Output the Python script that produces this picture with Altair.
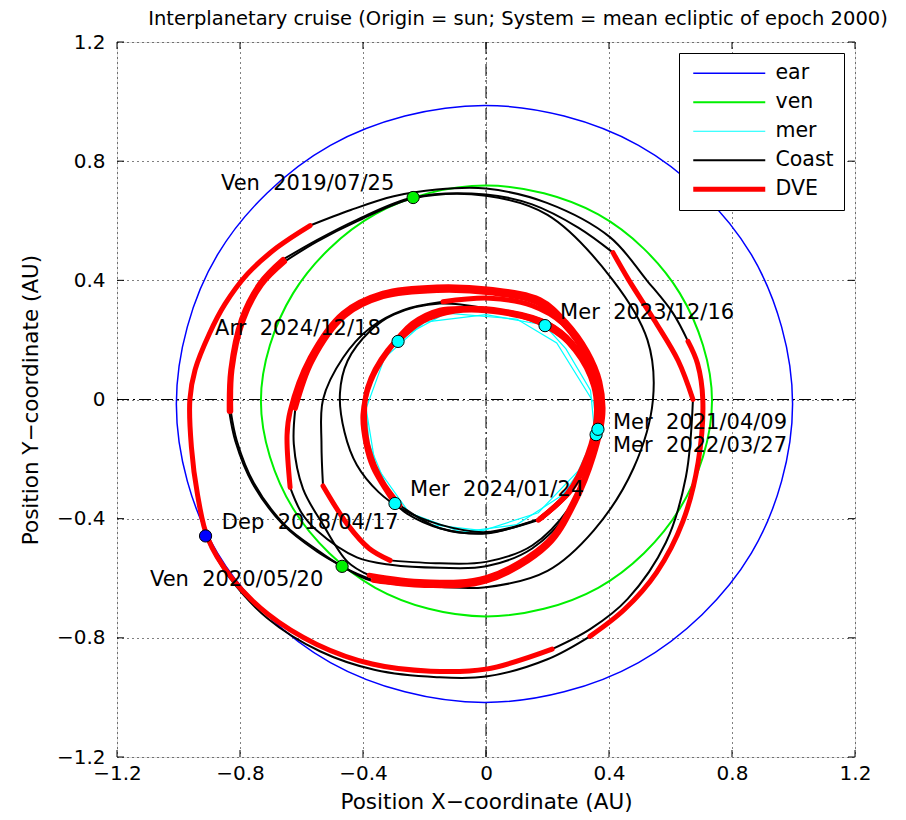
import altair as alt
import pandas as pd

W, H = 738, 715

TITLE = "Interplanetary cruise (Origin = sun; System = mean ecliptic of epoch 2000)"

x_ticks = [-1.2, -0.8, -0.4, 0.0, 0.4, 0.8, 1.2]
y_ticks = [-1.2, -0.8, -0.4, 0.0, 0.4, 0.8, 1.2]

series_names = ["ear", "ven", "mer", "Coast", "DVE"]
series_colors = ["#0000ff", "#00f000", "#00ffff", "#000000", "#ff0000"]
series_widths = [1.5, 2.0, 1.2, 2.0, 5.0]

# planet orbits (AU)
earth_x = [0.997, 0.863, 0.496, -0.005, -0.506, -0.873, -1.007, -0.873, -0.506, -0.005, 0.496, 0.863]
earth_y = [-0.015, 0.486, 0.853, 0.987, 0.853, 0.486, -0.015, -0.516, -0.883, -1.017, -0.883, -0.516]
venus_x = [0.735, 0.63, 0.365, 0.0, -0.36, -0.627, -0.732, -0.627, -0.36, 0.0, 0.365, 0.63]
venus_y = [-0.005, 0.357, 0.621, 0.718, 0.622, 0.357, -0.005, -0.367, -0.632, -0.728, -0.632, -0.367]
mer_a_x = [0.362, 0.35, 0.23, 0.10, -0.13, -0.29, -0.37, -0.393, -0.38, -0.30, -0.18, -0.01, 0.17, 0.30]
mer_a_y = [-0.10, -0.01, 0.19, 0.27, 0.29, 0.20, 0.08, 0.0, -0.15, -0.35, -0.42, -0.44, -0.38, -0.24]
mer_b_x = [0.355, 0.34, 0.26, 0.19, 0.0, -0.20, -0.33, -0.39, -0.36, -0.25, -0.08, 0.10, 0.25, 0.33]
mer_b_y = [-0.13, 0.03, 0.17, 0.25, 0.285, 0.26, 0.14, -0.03, -0.22, -0.38, -0.445, -0.42, -0.32, -0.20]

# trajectory arcs (kind, points)
traj_arcs = [
    ("Coast", [(-0.912, -0.46), (-0.84, -0.59), (-0.71, -0.735), (-0.54, -0.845), (-0.36, -0.908), (-0.16, -0.932), (0.0, -0.93), (0.2, -0.872), (0.338, -0.795)]),
    ("DVE", [(0.338, -0.795), (0.45, -0.705), (0.555, -0.58), (0.64, -0.41), (0.69, -0.21), (0.705, 0.0), (0.688, 0.12), (0.657, 0.195)]),
    ("Coast", [(0.657, 0.195), (0.608, 0.29), (0.523, 0.40), (0.403, 0.545), (0.198, 0.66), (0.0, 0.708), (-0.16, 0.705), (-0.30, 0.682), (-0.44, 0.636), (-0.572, 0.584)]),
    ("DVE", [(-0.572, 0.584), (-0.68, 0.51), (-0.777, 0.42), (-0.849, 0.32), (-0.90, 0.22), (-0.946, 0.10), (-0.963, 0.0), (-0.958, -0.16), (-0.938, -0.32), (-0.905, -0.465), (-0.83, -0.595), (-0.71, -0.72), (-0.55, -0.822), (-0.37, -0.888), (-0.18, -0.912), (0.0, -0.905), (0.215, -0.838)]),
    ("Coast", [(0.215, -0.838), (0.34, -0.77), (0.46, -0.67), (0.585, -0.48), (0.65, -0.26), (0.673, 0.0)]),
    ("DVE", [(0.673, 0.0), (0.625, 0.13), (0.548, 0.265), (0.465, 0.40), (0.413, 0.493)]),
    ("Coast", [(0.413, 0.493), (0.30, 0.577), (0.15, 0.655), (0.0, 0.688), (-0.237, 0.678), (-0.42, 0.603), (-0.55, 0.535), (-0.66, 0.47)]),
    ("DVE", [(-0.66, 0.47), (-0.735, 0.39), (-0.795, 0.27), (-0.83, 0.10), (-0.835, -0.04)]),
    ("Coast", [(-0.835, -0.04), (-0.815, -0.14), (-0.76, -0.28), (-0.66, -0.42), (-0.55, -0.51), (-0.468, -0.56), (-0.377, -0.607), (-0.205, -0.625), (0.0, -0.63), (0.2, -0.575), (0.35, -0.44), (0.48, -0.23), (0.543, 0.0), (0.525, 0.2), (0.413, 0.40), (0.2, 0.62), (0.0, 0.684), (-0.237, 0.675), (-0.42, 0.598), (-0.55, 0.53), (-0.655, 0.463)]),
    ("DVE", [(-0.655, 0.463), (-0.73, 0.385), (-0.79, 0.265), (-0.826, 0.10), (-0.83, -0.04)]),
    ("Coast", [(-0.83, -0.04), (-0.81, -0.14), (-0.755, -0.28), (-0.655, -0.42), (-0.545, -0.508), (-0.468, -0.56), (-0.42, -0.585), (-0.367, -0.607)]),
    ("DVE", [(-0.367, -0.607), (-0.2, -0.624), (0.0, -0.61), (0.2, -0.49), (0.29, -0.345), (0.35, -0.19), (0.38, -0.05), (0.37, 0.06), (0.33, 0.16), (0.26, 0.26), (0.176, 0.335), (0.013, 0.37), (-0.16, 0.378), (-0.335, 0.357), (-0.465, 0.29), (-0.572, 0.14), (-0.637, -0.04), (-0.647, -0.12), (-0.637, -0.295)]),
    ("Coast", [(-0.637, -0.295), (-0.60, -0.38), (-0.55, -0.44), (-0.42, -0.53), (-0.31, -0.555), (-0.15, -0.565), (0.0, -0.56), (0.15, -0.50), (0.28, -0.36), (0.345, -0.2), (0.364, -0.10)]),
    ("DVE", [(0.364, -0.10), (0.368, 0.0), (0.345, 0.10), (0.275, 0.225), (0.172, 0.322), (0.013, 0.358), (-0.16, 0.366), (-0.335, 0.345), (-0.46, 0.28), (-0.565, 0.13), (-0.62, -0.03)]),
    ("Coast", [(-0.62, -0.03), (-0.625, -0.15), (-0.595, -0.30), (-0.53, -0.42), (-0.45, -0.545), (-0.38, -0.59)]),
    ("DVE", [(-0.38, -0.59), (-0.2, -0.612), (0.0, -0.598), (0.2, -0.478), (0.285, -0.34), (0.345, -0.19), (0.372, -0.05), (0.36, 0.06), (0.32, 0.16), (0.25, 0.255), (0.15, 0.315), (0.013, 0.34), (-0.14, 0.328)]),
    ("Coast", [(-0.14, 0.328), (-0.27, 0.30), (-0.377, 0.24), (-0.465, 0.14), (-0.53, 0.0), (-0.535, -0.15), (-0.53, -0.29)]),
    ("DVE", [(-0.53, -0.29), (-0.45, -0.42), (-0.38, -0.50), (-0.312, -0.54)]),
    ("Coast", [(-0.312, -0.54), (-0.15, -0.55), (0.0, -0.545), (0.15, -0.49), (0.28, -0.35), (0.345, -0.2), (0.358, -0.118)]),
    ("DVE", [(0.358, -0.118), (0.365, -0.02), (0.34, 0.08), (0.28, 0.19), (0.2, 0.255), (0.088, 0.29)]),
    ("Coast", [(0.088, 0.29), (-0.15, 0.322), (-0.30, 0.285), (-0.377, 0.23), (-0.45, 0.13), (-0.475, 0.02), (-0.46, -0.11), (-0.42, -0.22), (-0.35, -0.31), (-0.27, -0.37), (-0.15, -0.42), (0.0, -0.445), (0.176, -0.40)]),
    ("DVE", [(0.176, -0.40), (0.28, -0.30), (0.34, -0.18), (0.365, -0.06), (0.355, 0.04), (0.30, 0.16), (0.192, 0.248), (0.08, 0.29), (-0.05, 0.305), (-0.15, 0.30), (-0.24, 0.255), (-0.32, 0.16), (-0.375, 0.06), (-0.40, -0.05), (-0.39, -0.15), (-0.367, -0.228), (-0.296, -0.349)]),
    ("Coast", [(-0.296, -0.349), (-0.257, -0.383), (-0.15, -0.432), (0.0, -0.45), (0.176, -0.40)]),
    ("DVE", [(0.176, -0.40), (0.27, -0.31), (0.335, -0.18), (0.362, -0.06), (0.352, 0.05), (0.295, 0.17), (0.2, 0.255), (0.05, 0.298), (-0.10, 0.302), (-0.22, 0.26), (-0.32, 0.165), (-0.385, 0.04), (-0.395, -0.06), (-0.38, -0.17), (-0.34, -0.27), (-0.28, -0.355)]),
    ("Coast", [(-0.28, -0.355), (-0.15, -0.432), (0.0, -0.448), (0.17, -0.405)]),
    ("DVE", [(0.17, -0.405), (0.265, -0.315), (0.33, -0.185), (0.358, -0.065), (0.35, 0.045), (0.29, 0.165), (0.195, 0.25), (0.05, 0.292), (-0.10, 0.297), (-0.21, 0.26), (-0.286, 0.195)]),
]

# event markers
marker_x = [-0.912, -0.237, -0.468, 0.358, 0.364, 0.192, -0.296, -0.286]
marker_y = [-0.458, 0.678, -0.560, -0.118, -0.100, 0.248, -0.349, 0.195]
marker_fill = ["#0000ff", "#00f000", "#00f000", "#00ffff", "#00ffff", "#00ffff", "#00ffff", "#00ffff"]

# event labels
sp = "\u00a0\u00a0"
label_text = ["Ven" + sp + "2019/07/25", "Mer" + sp + "2023/12/16", "Arr" + sp + "2024/12/18",
              "Mer" + sp + "2021/04/09", "Mer" + sp + "2022/03/27", "Mer" + sp + "2024/01/24",
              "Dep" + sp + "2018/04/17", "Ven" + sp + "2020/05/20"]
label_x = [-0.862, 0.241, -0.881, 0.413, 0.413, -0.247, -0.859, -1.093]
label_y = [0.723, 0.290, 0.238, -0.080, -0.155, -0.305, -0.414, -0.607]

# ---------------- build tables ----------------
def closed_rows(name, xs, ys, arc):
    return [dict(series=name, arc=arc, order=i, x=a, y=b) for i, (a, b) in enumerate(zip(xs, ys))]

planet_df = pd.DataFrame(closed_rows("ear", earth_x, earth_y, "e") + closed_rows("ven", venus_x, venus_y, "v"))
mer_df = pd.DataFrame(closed_rows("mer", mer_a_x, mer_a_y, "ma") + closed_rows("mer", mer_b_x, mer_b_y, "mb"))
rows = []
for k, (kind, pts) in enumerate(traj_arcs):
    for i, (a, b) in enumerate(pts):
        rows.append(dict(series=kind, arc=f"t{k:02d}", order=i, x=a, y=b))
traj_df = pd.DataFrame(rows)
coast_df = traj_df[traj_df.series == "Coast"]
dve_df = traj_df[traj_df.series == "DVE"]
marker_df = pd.DataFrame(dict(x=marker_x, y=marker_y, fill=marker_fill))
label_df = pd.DataFrame(dict(x=label_x, y=label_y, label=label_text))
tick_df = pd.DataFrame(dict(x=x_ticks, y=y_ticks))
zero_df = pd.DataFrame(dict(x=[0.0], y=[0.0]))
title_df = pd.DataFrame(dict(t=[TITLE]))

FONT = "DejaVu Sans"
LABEL_EXPR = "datum.value == 0 ? '0' : format(datum.value, '.1f')"
xs = alt.Scale(domain=[-1.2, 1.2], nice=False, zero=False)
ys = alt.Scale(domain=[-1.2, 1.2], nice=False, zero=False)
xaxis = alt.Axis(values=x_ticks, labelExpr=LABEL_EXPR, title="Position X\u2212coordinate (AU)", grid=True,
                 gridDash=[1, 4], gridColor="#000000", gridOpacity=1, ticks=False, domain=False,
                 labelFont=FONT, labelFontSize=20, labelColor="black", labelPadding=6, labelFlush=False,
                 labelOverlap=False, titleFont=FONT, titleFontSize=21.5, titleFontWeight="normal",
                 titleColor="black", titlePadding=8)
yaxis = alt.Axis(values=y_ticks, labelExpr=LABEL_EXPR, title="Position Y\u2212coordinate (AU)", grid=True,
                 gridDash=[1, 4], gridColor="#000000", gridOpacity=1, ticks=False, domain=False,
                 labelFont=FONT, labelFontSize=20, labelColor="black", labelPadding=12, labelFlush=False,
                 labelOverlap=False, titleFont=FONT, titleFontSize=21.5, titleFontWeight="normal",
                 titleColor="black", titlePadding=14)
X = alt.X("x:Q", scale=xs, axis=xaxis)
Y = alt.Y("y:Q", scale=ys, axis=yaxis)

legend = alt.Legend(title=None, orient="none", legendX=562, legendY=11, symbolType="M-1,0L11,0",
                    symbolSize=144, labelFont=FONT, labelFontSize=20.5, labelColor="black",
                    labelOffset=66, strokeColor="black", fillColor="white", padding=10,
                    rowPadding=8, zindex=1, labelLimit=200)
cscale = alt.Scale(domain=series_names, range=series_colors)
wscale = alt.Scale(type="ordinal", domain=series_names, range=series_widths)
C = alt.Color("series:N", scale=cscale, legend=legend)
SW = alt.StrokeWidth("series:N", scale=wscale, legend=legend)

zero_v = alt.Chart(zero_df).mark_rule(color="black", strokeWidth=1, strokeDash=[12, 4, 2, 4]).encode(x=X)
zero_h = alt.Chart(zero_df).mark_rule(color="black", strokeWidth=1, strokeDash=[12, 4, 2, 4]).encode(y=Y)
tick_b = alt.Chart(tick_df).mark_rule(color="black").encode(x=X, y=alt.value(H), y2=alt.value(H - 7))
tick_t = alt.Chart(tick_df).mark_rule(color="black").encode(x=X, y=alt.value(0), y2=alt.value(7))
tick_l = alt.Chart(tick_df).mark_rule(color="black").encode(y=Y, x=alt.value(0), x2=alt.value(7))
tick_r = alt.Chart(tick_df).mark_rule(color="black").encode(y=Y, x=alt.value(W), x2=alt.value(W - 7))

planets = alt.Chart(planet_df).mark_line(interpolate="cardinal-closed").encode(
    x=X, y=Y, color=C, strokeWidth=SW, detail="arc:N", order="order:Q")
mercury = alt.Chart(mer_df).mark_line(interpolate="linear-closed").encode(
    x=X, y=Y, color=C, strokeWidth=SW, detail="arc:N", order="order:Q")
coast = alt.Chart(coast_df).mark_line(interpolate="catmull-rom", strokeCap="round").encode(
    x=X, y=Y, color=C, strokeWidth=SW, detail="arc:N", order="order:Q")
dve = alt.Chart(dve_df).mark_line(interpolate="catmull-rom", strokeCap="round").encode(
    x=X, y=Y, color=C, strokeWidth=SW, detail="arc:N", order="order:Q")
markers = alt.Chart(marker_df).mark_circle(size=150, stroke="black", strokeWidth=1, opacity=1).encode(
    x=X, y=Y, fill=alt.Fill("fill:N", scale=None))
labels = alt.Chart(label_df).mark_text(align="left", baseline="middle", font=FONT, fontSize=21,
                                       color="black").encode(x=X, y=Y, text="label:N")
title = alt.Chart(title_df).mark_text(align="center", baseline="alphabetic", font=FONT, fontSize=19.5,
                                      color="black").encode(text="t:N", x=alt.value(W / 2 + 32),
                                                            y=alt.value(-17))

chart = alt.layer(zero_v, zero_h, tick_b, tick_t, tick_l, tick_r, planets, mercury, coast, dve,
                  markers, labels, title).properties(
    width=W, height=H, autosize="none",
    padding={"left": 109, "top": 34, "right": 42, "bottom": 55},
).configure_view(stroke="black", strokeWidth=1).configure(background="white")

chart.save("out.html", embed_options={"renderer": "svg", "actions": False})
